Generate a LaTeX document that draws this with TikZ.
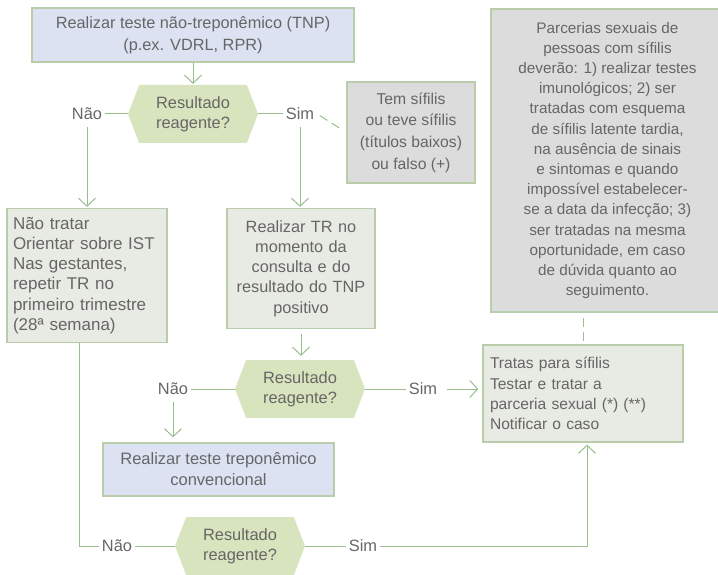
\documentclass[tikz,border=0pt]{standalone}
\usepackage{fontspec}
\setmainfont{Liberation Sans}
\usetikzlibrary{arrows.meta,shapes.symbols}

\definecolor{txt}{HTML}{666666}
\definecolor{edge}{HTML}{B9CDAA}
\definecolor{linec}{HTML}{98BE8E}
\definecolor{boxfill}{HTML}{E8EBE3}
\definecolor{bluefill}{HTML}{DDE2F3}
\definecolor{hexfill}{HTML}{D8E4BE}
\definecolor{grayfill}{HTML}{DCDCDC}

\newcommand{\fs}[2]{\fontsize{#1}{#2}\selectfont}

\begin{document}
\begin{tikzpicture}[x=1pt,y=-1pt,
  font=\fs{16.4}{20.5}, text=txt,
  box/.style={rectangle, draw=edge, line width=1.2pt, inner sep=0pt},
  lightbox/.style={box, fill=boxfill},
  bluebox/.style={box, fill=bluefill, align=center},
  graybox/.style={box, fill=grayfill, align=center},
  hexa/.style={signal, signal to=west and east, signal pointer angle=138,
    fill=hexfill, minimum width=130, minimum height=58, inner sep=0pt,
    align=center, font=\fs{16.4}{20.3}},
  lbl/.style={inner sep=3pt},
  conn/.style={draw=linec, line width=1pt},
  arr/.style={conn, -{Straight Barb[length=8pt,width=17pt]}},
  dsh/.style={conn, dash pattern=on 9pt off 5pt}]

\useasboundingbox (0,0) rectangle (718,575);

% boxes
\node[bluebox, minimum width=322, minimum height=54, font=\fs{16.3}{21.7}]
  (tnp) at (193,35)
  {Realizar teste não-treponêmico (TNP)\\(p.ex. VDRL, RPR)};
\node[hexa] (h1) at (193,114) {Resultado\\reagente?};
\node[lbl] (n1) at (87,114) {Não};
\node[lbl] (s1) at (300,114) {Sim};
\node[graybox, minimum width=128, minimum height=101, font=\fs{15.7}{21.6}]
  (g1) at (411,132.5)
  {Tem sífilis\\ou teve sífilis\\(títulos baixos)\\ou falso (+)};

\node[lightbox, minimum width=160, minimum height=134, text width=148,
  align=left, font=\fs{17}{20.3}] (nt) at (87,275.5)
  {Não tratar\\Orientar sobre IST\\Nas gestantes,\\repetir TR no\\primeiro trimestre\\(28ª semana)};
\node[lightbox, minimum width=148, minimum height=120, text width=144,
  align=center, font=\fs{16.3}{20.2}] (tr) at (301,268.5)
  {Realizar TR no\\momento da\\consulta e do\\resultado do TNP\\positivo};

\node[hexa] (h2) at (300,389) {Resultado\\reagente?};
\node[lbl] (n2) at (173,389) {Não};
\node[lbl] (s2) at (423,389) {Sim};
\node[bluebox, minimum width=231, minimum height=53, font=\fs{16.5}{21}]
  (tt) at (218.5,469.5)
  {Realizar teste treponêmico\\convencional};

\node[lightbox, minimum width=200, minimum height=97, text width=186,
  align=left, font=\fs{15.6}{20.3}] (tx) at (583,393.5)
  {Tratas para sífilis\\Testar e tratar a\\parceria sexual (*) (**)\\Notificar o caso};
\node[graybox, minimum width=233, minimum height=303, font=\fs{15.3}{20.2}]
  (g2) at (607.5,160.5)
  {Parcerias sexuais de\\pessoas com sífilis\\deverão: 1) realizar testes\\imunológicos; 2) ser\\tratadas com esquema\\de sífilis latente tardia,\\na ausência de sinais\\e sintomas e quando\\impossível estabelecer-\\se a data da infecção; 3)\\ser tratadas na mesma\\oportunidade, em caso\\de dúvida quanto ao\\seguimento.};

\node[hexa] (h3) at (240,546) {Resultado\\reagente?};
\node[lbl] (n3) at (117,546) {Não};
\node[lbl] (s3) at (363,546) {Sim};

\coordinate (c1) at (79,546);
\coordinate (c2) at (587,546);

% connectors
\draw[arr, shorten >=1pt] (tnp.south) -- (h1.north);
\draw[conn] (h1.west) -- (n1.east);
\draw[arr, shorten <=4pt, shorten >=1pt] (n1.south) -- (n1.south |- nt.north);
\draw[conn] (h1.east) -- (s1.west);
\draw[dsh, shorten <=3pt, shorten >=4pt] (s1.east) -- (g1.west);
\draw[arr, shorten <=4pt, shorten >=1pt] (s1.south) -- (s1.south |- tr.north);

\draw[arr, shorten <=5pt, shorten >=4pt] (tr.south) -- (tr.south |- h2.north);
\draw[conn] (h2.west) -- (n2.east);
\draw[arr, shorten <=4pt, shorten >=5pt] (n2.south) -- (n2.south |- tt.north);
\draw[conn] (h2.east) -- (s2.west);
\draw[arr, shorten <=7pt, shorten >=4pt] (s2.east) -- (s2.east -| tx.west);

\draw[dsh, shorten <=5pt] (g2.south -| tx.north) -- (tx.north);

\draw[conn] (nt.south -| c1) -- (c1) -- (n3.west);
\draw[conn] (n3.east) -- (h3.west);
\draw[conn] (h3.east) -- (s3.west);
\draw[arr, shorten >=2pt] (s3.east) -- (c2) -- (c2 |- tx.south);
\end{tikzpicture}
\end{document}
